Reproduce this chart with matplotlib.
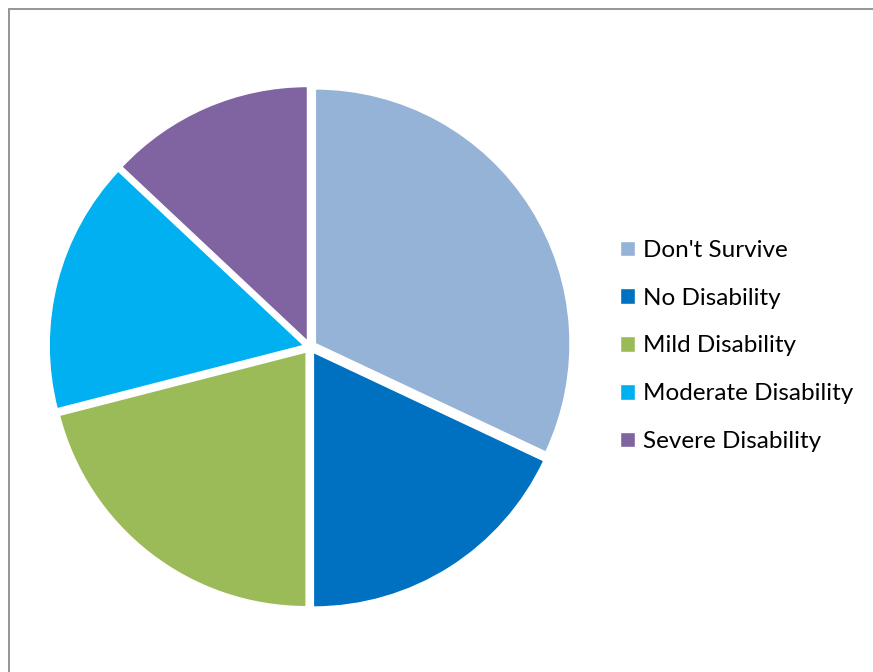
import matplotlib.pyplot as plt
from matplotlib.patches import Rectangle

# 数据
labels = ["Don't Survive", 'No Disability', 'Mild Disability', 'Moderate Disability', 'Severe Disability']
values = [32, 18, 21, 16, 13]
colors = ['#95B3D7', '#0070C0', '#9BBB59', '#00B0F0', '#8064A2']

plt.rcParams['font.family'] = ['Lato', 'DejaVu Sans']

W, H = 873, 672
fig = plt.figure(figsize=(W / 100, H / 100), dpi=100)

# 外框
fig.patches.append(Rectangle((9 / W, -0.1), 1.2, 1 - 9 / H + 0.1, transform=fig.transFigure,
                             fill=False, edgecolor='#8c8c8c', linewidth=1.3))

# 饼图
cx, cy, R = 310, 347, 261
ax = fig.add_axes([(cx - R) / W, (H - cy - R) / H, 2 * R / W, 2 * R / H])
wedges, _ = ax.pie(values, colors=colors, startangle=90, counterclock=False,
                   explode=[0.025] * len(values),
                   wedgeprops=dict(edgecolor='white', linewidth=1))
ax.set_xlim(-1.025, 1.025)
ax.set_ylim(-1.025, 1.025)
ax.set_aspect('equal')
ax.axis('off')

fig.legend(wedges, labels, loc='center left', bbox_to_anchor=(620 / W, 1 - 346 / H),
           frameon=False, fontsize=17.5, handlelength=0.62, handleheight=0.62,
           handletextpad=0.32, labelspacing=1.1, borderpad=0, borderaxespad=0)

fig.savefig('out.png', dpi=100)
